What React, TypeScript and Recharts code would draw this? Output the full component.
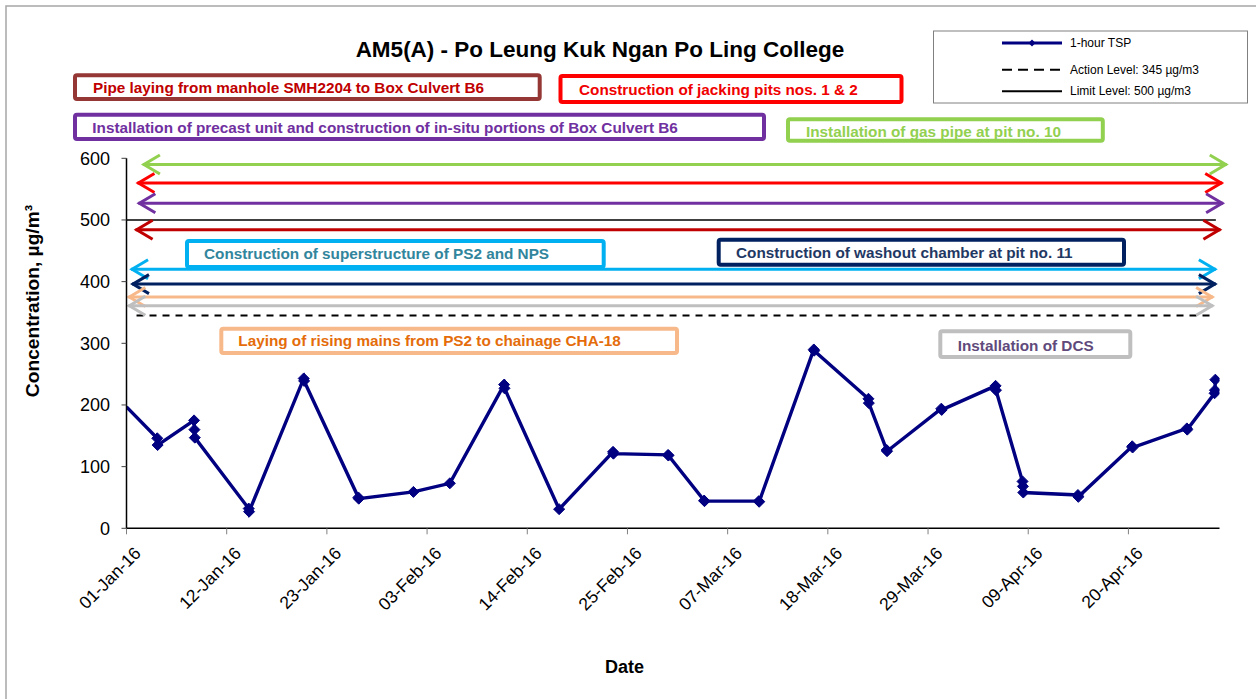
import { Line, LineChart, ReferenceLine, XAxis, YAxis } from 'recharts';

const DAY = 86400000;
const T0 = Date.UTC(2016, 0, 1);
const FONT = '"Liberation Sans", Arial, sans-serif';

// 1-hour TSP samples (µg/m3)
const SAMPLE_TIMES = [
  '2016-01-01 00:00',
  '2016-01-04 09:00', '2016-01-04 10:00',
  '2016-01-08 10:00', '2016-01-08 11:00', '2016-01-08 12:00',
  '2016-01-14 10:00', '2016-01-14 11:00',
  '2016-01-20 11:00', '2016-01-20 12:00',
  '2016-01-26 11:00', '2016-01-26 12:00',
  '2016-02-01 12:00',
  '2016-02-05 12:00',
  '2016-02-11 11:00', '2016-02-11 12:00',
  '2016-02-17 12:00',
  '2016-02-23 10:00', '2016-02-23 11:00',
  '2016-02-29 11:00', '2016-02-29 12:00',
  '2016-03-04 10:00', '2016-03-04 11:00',
  '2016-03-10 10:00', '2016-03-10 11:00',
  '2016-03-16 11:00', '2016-03-16 12:00',
  '2016-03-22 11:00', '2016-03-22 12:00',
  '2016-03-24 11:00', '2016-03-24 12:00',
  '2016-03-30 11:00', '2016-03-30 12:00',
  '2016-04-05 10:00', '2016-04-05 11:00',
  '2016-04-08 09:00', '2016-04-08 10:00', '2016-04-08 11:00',
  '2016-04-14 11:00', '2016-04-14 12:00',
  '2016-04-20 10:00', '2016-04-20 11:00',
  '2016-04-26 10:00', '2016-04-26 11:00',
  '2016-04-29 11:00', '2016-04-29 12:00', '2016-04-29 13:00',
];

const TSP = [
  197,
  146, 135,
  175, 160, 147,
  32, 27,
  243, 239,
  50, 48,
  59,
  73,
  233, 227,
  31,
  124, 121,
  119, 118,
  45, 44,
  44, 43,
  290, 288,
  210, 203,
  127, 125,
  194, 192,
  231, 224,
  76, 68, 58,
  54, 51,
  133, 131,
  162, 160,
  219, 224, 241,
];

const X_TICK_DATES = [
  '2016-01-01', '2016-01-12', '2016-01-23', '2016-02-03', '2016-02-14', '2016-02-25',
  '2016-03-07', '2016-03-18', '2016-03-29', '2016-04-09', '2016-04-20',
];
const X_END_DATE = '2016-04-30';
const Y_TICKS = [0, 100, 200, 300, 400, 500, 600];

const ACTION_LEVEL = 345;
const LIMIT_LEVEL = 500;

// construction activities shown as arrows across the period
const ACTIVITY_LABELS = [
  'Pipe laying from manhole SMH2204 to Box Culvert B6',
  'Construction of jacking pits nos. 1 & 2',
  'Installation of precast unit and construction of in-situ portions of Box Culvert B6',
  'Installation of gas pipe at pit no. 10',
  'Construction of superstructure of PS2 and NPS',
  'Construction of washout chamber at pit no. 11',
  'Laying of rising mains from PS2 to chainage CHA-18',
  'Installation of DCS',
];
const ACTIVITY_LEVELS = [484, 560, 527, 590, 420, 396, 375, 361];
const ACTIVITY_START_DAY = [1.0, 1.2, 1.3, 1.8, 0.5, 0.6, 0.2, 0.2];
const ACTIVITY_END_DAY = [120.1, 120.3, 120.4, 120.8, 119.6, 119.6, 119.3, 119.3];

const ARROW_COLORS = ['#C00000', '#FF0000', '#7030A0', '#92D050', '#00B0F0', '#002060', '#F8B98A', '#BFBFBF'];
const BOX_COLORS = ['#953735', '#FF0000', '#7030A0', '#92D050', '#00B0F0', '#002060', '#F8B98A', '#BFBFBF'];
const TEXT_COLORS = ['#C00000', '#F00000', '#7030A0', '#92D050', '#31859C', '#1F3864', '#E46C0A', '#604A7B'];
// label box placement: [x, y, w, h, textX, textBaseline]
const BOX_GEOM = [
  [75, 75.3, 464.7, 23.7, 93, 92.5],
  [560.5, 76, 341, 26, 579, 95],
  [75, 114.7, 689, 24.3, 92.3, 133],
  [788, 119.3, 314.8, 21.4, 806, 136.5],
  [187, 241, 416.7, 26, 204, 258.8],
  [718.7, 239.7, 405.3, 25, 736, 257.8],
  [221.3, 328.7, 455.7, 24.3, 238.3, 346.2],
  [940.3, 331.3, 190, 25.7, 957.7, 350.5],
];

const MONTHS = ['Jan', 'Feb', 'Mar', 'Apr', 'May', 'Jun', 'Jul', 'Aug', 'Sep', 'Oct', 'Nov', 'Dec'];

const parseTime = (s: string) => {
  const [d, hm = '00:00'] = s.split(' ');
  const [y, m, dd] = d.split('-').map(Number);
  const [h, mi] = hm.split(':').map(Number);
  return Date.UTC(y, m - 1, dd, h, mi);
};

const fmtDate = (t: number) => {
  const d = new Date(t);
  const dd = String(d.getUTCDate()).padStart(2, '0');
  return `${dd}-${MONTHS[d.getUTCMonth()]}-${String(d.getUTCFullYear()).slice(2)}`;
};

const data = SAMPLE_TIMES.map((s, i) => ({ t: parseTime(s), v: TSP[i] }));
const xTicks = X_TICK_DATES.map((d) => parseTime(d));
const xDomain = [T0, parseTime(X_END_DATE)];

const diamond = (cx: number, cy: number, r: number) =>
  `M${cx},${cy - r}L${cx + r},${cy}L${cx},${cy + r}L${cx - r},${cy}Z`;

function TspDot(p: any) {
  if (p.index === 0) return <g key={`dot-${p.index}`} />;
  return <path key={`dot-${p.index}`} d={diamond(p.cx, p.cy, 5.5)} fill="#000080" stroke="#000080" />;
}

function DateTick(p: any) {
  const ax = p.x + 15.5;
  const ay = p.y + 20;
  return (
    <text
      x={ax}
      y={ay}
      transform={`rotate(-45 ${ax} ${ay})`}
      textAnchor="end"
      fontSize={17.5}
      fontFamily={FONT}
      fill="#000"
    >
      {fmtDate(p.payload.value)}
    </text>
  );
}

function arrowShape(color: string) {
  return (p: any) => {
    const { x1, x2, y1 } = p;
    return (
      <g>
        <line x1={x1} y1={y1} x2={x2} y2={y1} stroke={color} strokeWidth={3} />
        <polyline
          points={`${x1 + 17},${y1 - 9.5} ${x1 + 1},${y1} ${x1 + 17},${y1 + 9.5}`}
          fill="none"
          stroke={color}
          strokeWidth={3}
        />
        <polyline
          points={`${x2 - 17},${y1 - 9.5} ${x2 - 1},${y1} ${x2 - 17},${y1 + 9.5}`}
          fill="none"
          stroke={color}
          strokeWidth={3}
        />
      </g>
    );
  };
}

export default function App() {
  return (
    <div style={{ position: 'absolute', left: 0, top: 0, width: 1256, height: 699, background: '#fff', overflow: 'hidden' }}>
      <LineChart
        width={1256}
        height={699}
        data={data}
        margin={{ top: 158.3, right: 36.5, bottom: 110.7, left: 66.5 }}
      >
        <rect x={6} y={6} width={1300} height={720} fill="none" stroke="#A6A6A6" strokeWidth={1.5} />
        <XAxis
          dataKey="t"
          type="number"
          domain={xDomain}
          ticks={xTicks}
          allowDataOverflow
          height={60}
          tickSize={6}
          tickMargin={0}
          tickLine={{ stroke: '#808080' }}
          axisLine={{ stroke: '#000', strokeWidth: 1.5 }}
          tick={DateTick}
          interval={0}
        />
        <YAxis
          type="number"
          domain={[0, 600]}
          ticks={Y_TICKS}
          width={60}
          tickSize={5}
          tickMargin={11.5}
          tickLine={{ stroke: '#404040' }}
          axisLine={{ stroke: '#000', strokeWidth: 1.5 }}
          tick={{ fontSize: 18, fill: '#000', fontFamily: FONT }}
          interval={0}
        />
        <ReferenceLine
          segment={[{ x: T0, y: LIMIT_LEVEL }, { x: T0 + 119.6 * DAY, y: LIMIT_LEVEL }]}
          stroke="#000"
          strokeWidth={1.5}
          ifOverflow="visible"
        />
        <ReferenceLine
          segment={[{ x: T0 + 1.1 * DAY, y: ACTION_LEVEL }, { x: T0 + 119.2 * DAY, y: ACTION_LEVEL }]}
          stroke="#000"
          strokeWidth={2}
          strokeDasharray="7 6"
          ifOverflow="visible"
        />
        {ACTIVITY_LEVELS.map((lvl, i) => (
          <ReferenceLine
            key={`arrow-${i}`}
            segment={[
              { x: T0 + ACTIVITY_START_DAY[i] * DAY, y: lvl },
              { x: T0 + ACTIVITY_END_DAY[i] * DAY, y: lvl },
            ]}
            stroke={ARROW_COLORS[i]}
            ifOverflow="visible"
            shape={arrowShape(ARROW_COLORS[i])}
          />
        ))}
        <Line
          dataKey="v"
          type="linear"
          stroke="#000080"
          strokeWidth={3.4}
          dot={TspDot}
          activeDot={false}
          isAnimationActive={false}
        />
        {ACTIVITY_LABELS.map((label, i) => {
          const [bx, by, bw, bh, tx, ty] = BOX_GEOM[i];
          return (
            <g key={`box-${i}`}>
              <rect x={bx} y={by} width={bw} height={bh} rx={2} fill="#fff" stroke={BOX_COLORS[i]} strokeWidth={4} />
              <text x={tx} y={ty} fontSize={15.3} fontWeight="bold" fontFamily={FONT} fill={TEXT_COLORS[i]}>
                {label}
              </text>
            </g>
          );
        })}
        <text x={600} y={56.7} textAnchor="middle" fontSize={22.5} fontWeight="bold" fontFamily={FONT} fill="#000">
          AM5(A) - Po Leung Kuk Ngan Po Ling College
        </text>
        <text
          x={32}
          y={301}
          transform="rotate(-90 32 301)"
          textAnchor="middle"
          dominantBaseline="central"
          fontSize={19.2}
          fontWeight="bold"
          fontFamily={FONT}
          fill="#000"
        >
          Concentration, µg/m³
        </text>
        <text x={624.4} y={672.7} textAnchor="middle" fontSize={18} fontWeight="bold" fontFamily={FONT} fill="#000">
          Date
        </text>
        <g>
          <rect x={933.5} y={31} width={314} height={72} fill="#fff" stroke="#808080" strokeWidth={1} />
          <line x1={1002} y1={43} x2={1062} y2={43} stroke="#000080" strokeWidth={3} />
          <path d={diamond(1032, 43, 3.5)} fill="#000080" />
          <text x={1070} y={47} fontSize={12} fontFamily={FONT} fill="#000">1-hour TSP</text>
          <line x1={1002} y1={69.7} x2={1062} y2={69.7} stroke="#000" strokeWidth={2} strokeDasharray="10 6" />
          <text x={1070} y={73.7} fontSize={12} fontFamily={FONT} fill="#000">Action Level: 345 µg/m3</text>
          <line x1={1002} y1={91.3} x2={1062} y2={91.3} stroke="#000" strokeWidth={2} />
          <text x={1070} y={95.3} fontSize={12} fontFamily={FONT} fill="#000">Limit Level: 500 µg/m3</text>
        </g>
      </LineChart>
    </div>
  );
}
